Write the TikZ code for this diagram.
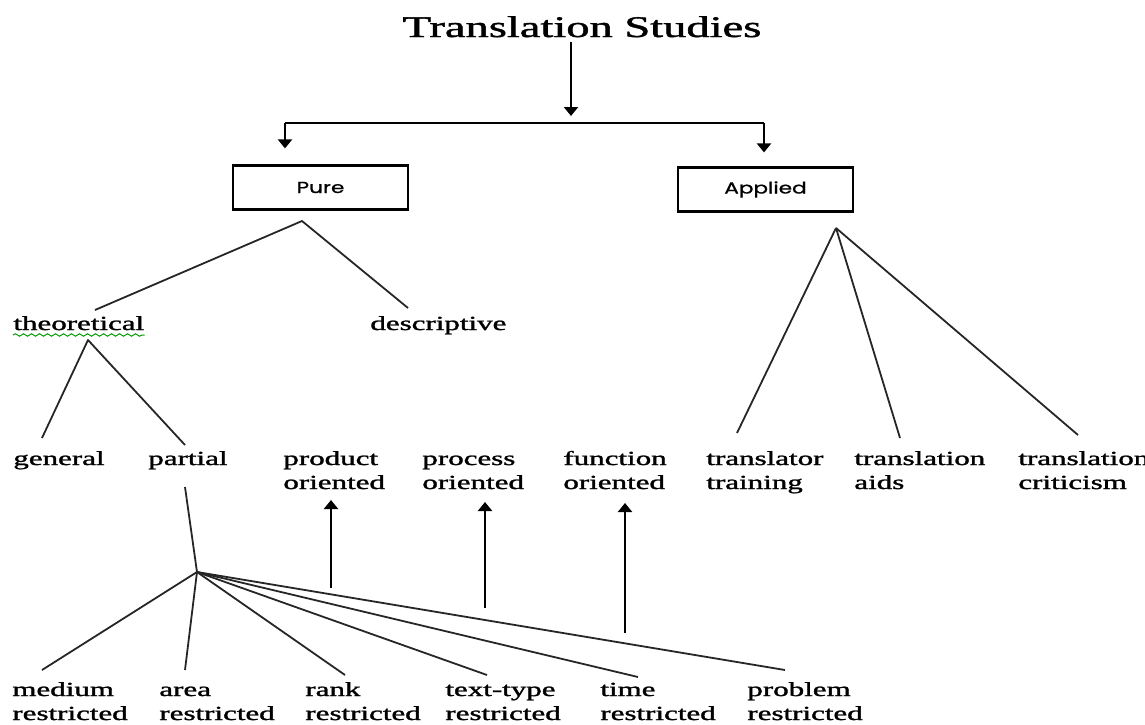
\documentclass[tikz,border=0pt]{standalone}
\usepackage{fontspec}
\setmainfont{Liberation Serif}[FakeBold=1.2]
\newfontfamily\boxfont{Poppins}[FakeBold=0.8]
\usetikzlibrary{arrows.meta,calc,decorations.pathmorphing}
\newcommand{\lbl}[1]{\scalebox{1.55}[1]{\begin{tabular}[t]{@{}l@{}}#1\end{tabular}}}

\begin{document}
\begin{tikzpicture}[x=0.5pt,y=-0.5pt,
    leaf/.style={anchor=base west, inner sep=0pt},
    branch/.style={line width=0.9pt, draw=black!85, line join=round},
    arr/.style={-{Triangle[length=4.5pt,width=7pt]}, line width=1.3pt},
    kind/.style={draw, line width=1.1pt, minimum width=87.5pt, minimum height=22pt,
        inner sep=0pt, font=\boxfont\fontsize{8}{9}\selectfont}]
    \useasboundingbox (0,0) rectangle (1145,724);

    % top of the tree
    \node[anchor=base, inner sep=0pt] (title) at (582,37)
        {\scalebox{1.55}[1]{\fontsize{15}{18}\selectfont Translation Studies}};
    \coordinate (brL) at (285,123);
    \coordinate (brR) at (764,123);
    \node[kind] (pure) at (320.5,187.5) {\scalebox{1.35}[1]{Pure}};
    \node[kind] (applied) at (765.5,189.5) {\scalebox{1.35}[1]{Applied}};
    \draw[arr] ($(title.base)+(-11,5)$) -- ($(title.base)+(-11,79)$);
    \draw[line width=1.3pt] (brL) -- (brR);
    \draw[arr] (brL) -- ($(pure.north -| brL)+(0,-16)$);
    \draw[arr] (brR) -- ($(applied.north -| brR)+(0,-14)$);

    % pure
    \coordinate (pureFork) at (302,221);
    \node[leaf] (theo) at (13,330) {\lbl{theoretical}};
    \node[leaf] (desc) at (370,330) {\lbl{descriptive}};
    \draw[branch] ($(theo.base west)+(82,-20)$) -- (pureFork) -- ($(desc.base west)+(38,-22)$);
    \draw[green!60!black, line width=0.5pt, decorate,
        decoration={snake, amplitude=0.6pt, segment length=4pt}]
        ($(theo.base west)+(0,5)$) -- ($(theo.base east)+(0,5)$);

    \node[leaf] (gen) at (13,465) {\lbl{general}};
    \node[leaf] (part) at (148,465) {\lbl{partial}};
    \coordinate (theoFork) at (88,340);
    \draw[branch] ($(gen.base west)+(29,-27)$) -- (theoFork) -- ($(part.base west)+(37,-20)$);

    \node[leaf] (prod) at (283,465) {\lbl{product\\oriented}};
    \node[leaf] (proc) at (422,465) {\lbl{process\\oriented}};
    \node[leaf] (func) at (563,465) {\lbl{function\\oriented}};

    % applied
    \node[leaf] (trtrain) at (706,465) {\lbl{translator\\training}};
    \node[leaf] (traids) at (854,465) {\lbl{translation\\aids}};
    \node[leaf] (trcrit) at (1018,465) {\lbl{translation\\criticism}};
    \coordinate (appFork) at (836,228);
    \foreach \n/\dx/\dy in {trtrain/31/-32, traids/46/-27, trcrit/60/-30}
        \draw[branch] (appFork) -- ($(\n.base west)+(\dx,\dy)$);

    % partial
    \coordinate (fan) at (197,572);
    \draw[branch] ($(part.base west)+(37,22)$) -- (fan);
    \node[leaf] (med) at (12,696) {\lbl{medium\\restricted}};
    \node[leaf] (area) at (159,696) {\lbl{area\\restricted}};
    \node[leaf] (rank) at (305,696) {\lbl{rank\\restricted}};
    \node[leaf] (ttype) at (445,696) {\lbl{text-type\\restricted}};
    \node[leaf] (time) at (600,696) {\lbl{time\\restricted}};
    \node[leaf] (prob) at (747,696) {\lbl{problem\\restricted}};
    \foreach \n/\dx/\dy in {med/30/-26, area/26/-26, rank/40/-21, ttype/42/-21, time/38/-19, prob/38/-26}
        \draw[branch] (fan) -- ($(\n.base west)+(\dx,\dy)$);

    \foreach \n/\dx/\dy/\len in {prod/48/35/88, proc/63/37/106, func/62/38/130}
        \draw[arr] ($(\n.base west)+(\dx,\dy+\len)$) -- ($(\n.base west)+(\dx,\dy)$);
\end{tikzpicture}
\end{document}
